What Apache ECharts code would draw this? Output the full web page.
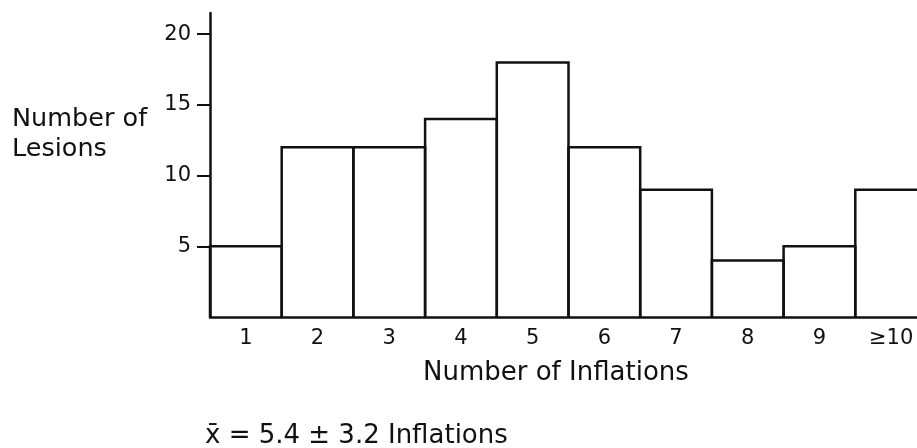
<!DOCTYPE html>
<html>
<head>
<meta charset="utf-8">
<script src="https://cdn.jsdelivr.net/npm/echarts@6/dist/echarts.min.js"></script>
<style>
  html, body { margin: 0; padding: 0; background: #fff; }
  #chart { width: 917px; height: 448px; }
</style>
</head>
<body>
<div id="chart"></div>
<script>
var categories = ['1', '2', '3', '4', '5', '6', '7', '8', '9', '≥10'];
var lesions = [5, 12, 12, 14, 18, 12, 9, 4, 5, 9];
var yTicks = [5, 10, 15, 20];

var ink = '#111';
var font = 'DejaVu Sans';

// histogram bars drawn as open outlines so neighbouring bars share one edge
function renderBar(params, api) {
    var idx = api.value(0);
    var top = api.coord([idx, api.value(1)]);
    var base = api.coord([idx, 0]);
    var half = api.size([1, 0])[0] / 2;
    var x0 = top[0] - half, x1 = top[0] + half;
    return {
        type: 'polyline',
        shape: { points: [[x0, base[1]], [x0, top[1]], [x1, top[1]], [x1, base[1]]] },
        style: { stroke: ink, lineWidth: 2.5, fill: null }
    };
}

var chart = echarts.init(document.getElementById('chart'));
chart.setOption({
    backgroundColor: '#fff',
    animation: false,
    grid: { left: 210, top: 13, width: 717, height: 304, outerBoundsMode: 'none' },
    xAxis: {
        type: 'category',
        data: categories,
        axisLine: { lineStyle: { color: ink, width: 2.5 } },
        axisTick: { show: false },
        axisLabel: { color: ink, fontFamily: font, fontSize: 21, margin: 11 }
    },
    yAxis: {
        type: 'value',
        min: 0,
        max: 21.5,
        splitLine: { show: false },
        axisLine: { show: true, lineStyle: { color: ink, width: 2.5 } },
        axisTick: { show: true, length: 13, customValues: yTicks, lineStyle: { color: ink, width: 2 } },
        axisLabel: { color: ink, fontFamily: font, fontSize: 21, margin: 19, customValues: yTicks }
    },
    series: [{
        type: 'custom',
        renderItem: renderBar,
        clip: false,
        encode: { x: 0, y: 1 },
        data: lesions.map(function (v, i) { return [i, v]; })
    }],
    graphic: [
        { type: 'text', left: 12, top: 104, style: { text: 'Number of\nLesions', font: '25.5px ' + font, fill: ink, lineHeight: 30 } },
        { type: 'text', left: 423, top: 360, style: { text: 'Number of Inflations', font: '26px ' + font, fill: ink } },
        { type: 'text', left: 205, top: 423, style: { text: 'x\u0304 = 5.4 \u00b1 3.2 Inflations', font: '26px ' + font, fill: ink } }
    ]
});
</script>
</body>
</html>
